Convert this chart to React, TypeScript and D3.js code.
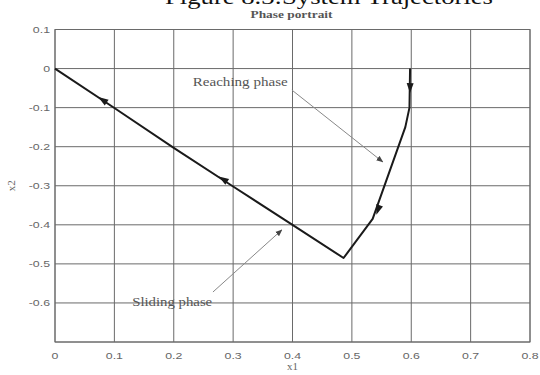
import React from "react";
import * as d3 from "d3";

const W = 540;
const H = 375;

const xTicks = [0, 0.1, 0.2, 0.3, 0.4, 0.5, 0.6, 0.7, 0.8];
const xTickLabels = ["0", "0.1", "0.2", "0.3", "0.4", "0.5", "0.6", "0.7", "0.8"];
const yTicks = [0.1, 0, -0.1, -0.2, -0.3, -0.4, -0.5, -0.6, -0.7];
const yTickLabels = ["0.1", "0", "-0.1", "-0.2", "-0.3", "-0.4", "-0.5", "-0.6", ""];

// trajectory: reaching phase then sliding phase back to origin
const trajX = [0.598, 0.597, 0.59, 0.535, 0.486, 0.4, 0.3, 0.2, 0.1, 0];
const trajY = [0, -0.1, -0.15, -0.385, -0.485, -0.4, -0.302, -0.203, -0.101, 0];

// arrowheads on the trajectory
const arrowX = [0.598, 0.544, 0.283, 0.08];
const arrowY = [-0.05, -0.362, -0.283, -0.08];

// annotations
const annText = ["Reaching phase", "Sliding phase"];
const annTextX = [0.232, 0.13];
const annTextY = [-0.045, -0.607];
const annFromX = [0.399, 0.266];
const annFromY = [-0.055, -0.572];
const annToX = [0.552, 0.382];
const annToY = [-0.239, -0.413];

const title = "Figure 8.3:System Trajectories";
const subtitle = "Phase portrait";
const xLabel = "x1";
const yLabel = "x2";

export default function App() {
  const left = 55, right = 530, top = 29.5, bottom = 342;
  const x = d3.scaleLinear().domain([0, 0.8]).range([left, right]);
  const y = d3.scaleLinear().domain([-0.7, 0.1]).range([bottom, top]);

  const pts: [number, number][] = trajX.map((v, i) => [v, trajY[i]]);
  const line = d3.line<[number, number]>().x((d) => x(d[0])).y((d) => y(d[1]));

  // direction of each arrow from nearest trajectory segment
  const arrowAngles = arrowX.map((ax, k) => {
    const ay = arrowY[k];
    let best = 0, bestD = Infinity;
    for (let i = 0; i < pts.length - 1; i++) {
      const [x0, y0] = pts[i], [x1, y1] = pts[i + 1];
      const dx = x1 - x0, dy = y1 - y0;
      const t = Math.max(0, Math.min(1, ((ax - x0) * dx + (ay - y0) * dy) / (dx * dx + dy * dy)));
      const px = x0 + t * dx, py = y0 + t * dy;
      const d = (px - ax) ** 2 + (py - ay) ** 2;
      if (d < bestD) { bestD = d; best = i; }
    }
    const [x0, y0] = pts[best], [x1, y1] = pts[best + 1];
    return (Math.atan2(y(y1) - y(y0), x(x1) - x(x0)) * 180) / Math.PI;
  });

  const gridColor = "#6a6a6a";
  const textColor = "#666";

  return (
    <svg width={W} height={H} style={{ position: "absolute", left: 0, top: 0 }}>
      <rect width={W} height={H} fill="#fff" />
      <defs>
        <marker id="annArrow" viewBox="0 0 10 10" refX="9" refY="5" markerWidth="7" markerHeight="7" orient="auto">
          <path d="M0,1 L10,5 L0,9 Z" fill="#444" />
        </marker>
      </defs>
      {/* big figure caption (cut at top, as in the source image) */}
      <text x={165} y={4} fontFamily="'Liberation Serif', serif" fontSize={20} textLength={328} lengthAdjust="spacingAndGlyphs" fill="#111">
        {title}
      </text>
      {/* subtitle */}
      <text x={x(0.4) - 1} y={18} textAnchor="middle" fontFamily="'Liberation Serif', serif" fontSize={9.5} textLength={82} lengthAdjust="spacingAndGlyphs" fill="#555" fontWeight="bold">
        {subtitle}
      </text>
      {/* grid */}
      {xTicks.map((t) => (
        <line key={"gx" + t} x1={x(t)} x2={x(t)} y1={top} y2={bottom} stroke={gridColor} strokeWidth={1} />
      ))}
      {yTicks.map((t) => (
        <line key={"gy" + t} x1={left} x2={right} y1={y(t)} y2={y(t)} stroke={gridColor} strokeWidth={1} />
      ))}
      <rect x={left} y={top} width={right - left} height={bottom - top} fill="none" stroke={gridColor} strokeWidth={1} />
      {/* tick labels */}
      {xTicks.map((t, i) => (
        <g key={"xl" + t} transform={`translate(${x(t)},${bottom + 17}) scale(1.3,1)`}>
          <text textAnchor="middle" fontFamily="'Liberation Sans', Arial, sans-serif" fontSize={9.5} fill={textColor}>
            {xTickLabels[i]}
          </text>
        </g>
      ))}
      {yTicks.map((t, i) => (
        <g key={"yl" + t} transform={`translate(${left - 5},${y(t) + 3.5}) scale(1.3,1)`}>
          <text textAnchor="end" fontFamily="'Liberation Sans', Arial, sans-serif" fontSize={9.5} fill={textColor}>
            {yTickLabels[i]}
          </text>
        </g>
      ))}
      {/* axis labels */}
      <text x={x(0.4)} y={370} textAnchor="middle" fontFamily="'Liberation Serif', serif" fontSize={11} fill={textColor}>
        {xLabel}
      </text>
      <text transform={`translate(15,${y(-0.3)}) rotate(-90)`} textAnchor="middle" fontFamily="'Liberation Serif', serif" fontSize={11} fill={textColor}>
        {yLabel}
      </text>
      {/* trajectory */}
      <path d={line(pts) || ""} fill="none" stroke="#1a1a1a" strokeWidth={2} strokeLinejoin="round" />
      {arrowX.map((ax, k) => (
        <path
          key={"ar" + k}
          d="M5,0 L-5,-3.5 L-5,3.5 Z"
          fill="#1a1a1a"
          transform={`translate(${x(ax)},${y(arrowY[k])}) rotate(${arrowAngles[k]})`}
        />
      ))}
      {/* annotations */}
      {annText.map((t, i) => (
        <g key={"an" + i}>
          <text
            x={x(annTextX[i])}
            y={y(annTextY[i])}
            fontFamily="'Liberation Serif', serif"
            fontSize={11.5}
            textLength={i === 0 ? 95 : 80}
            lengthAdjust="spacingAndGlyphs"
            fill="#555"
          >
            {t}
          </text>
          <line
            x1={x(annFromX[i])}
            y1={y(annFromY[i])}
            x2={x(annToX[i])}
            y2={y(annToY[i])}
            stroke="#888"
            strokeWidth={1}
            markerEnd="url(#annArrow)"
          />
        </g>
      ))}
    </svg>
  );
}
